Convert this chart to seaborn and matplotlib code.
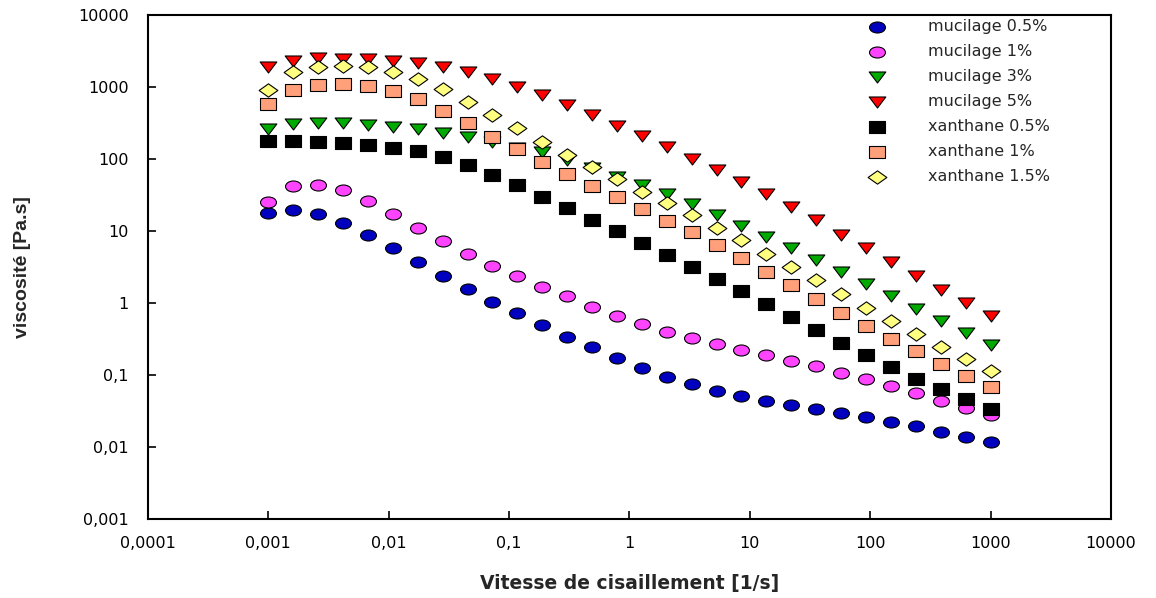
import numpy as np
import matplotlib
matplotlib.use("Agg")
import matplotlib.pyplot as plt
from matplotlib.path import Path
from matplotlib.transforms import Affine2D
import seaborn as sns

# ============================================
# DONNEES
# ============================================

# vitesse de cisaillement [1/s], 30 points log de 0.001 a 1000
shear_rate = [
    0.001, 0.00161, 0.00259, 0.00418, 0.00672, 0.0108, 0.0174, 0.0281,
    0.0452, 0.0728, 0.117, 0.189, 0.304, 0.489, 0.788, 1.27, 2.04, 3.29,
    5.30, 8.53, 13.7, 22.1, 35.6, 57.4, 92.4, 149, 240, 386, 621, 1000,
]

mucilage_05 = [
    17.5, 19.4, 16.9, 12.8, 8.8, 5.75, 3.71, 2.40, 1.55, 1.04, 0.713, 0.490,
    0.341, 0.243, 0.172, 0.123, 0.095, 0.075, 0.060, 0.051, 0.0435, 0.0388,
    0.0337, 0.0301, 0.0258, 0.0225, 0.0194, 0.0164, 0.0139, 0.0116,
]
mucilage_1 = [
    25.0, 41.4, 42.7, 36.4, 25.8, 16.9, 10.8, 7.13, 4.75, 3.27, 2.33, 1.67,
    1.23, 0.891, 0.668, 0.511, 0.401, 0.324, 0.267, 0.222, 0.188, 0.158,
    0.132, 0.107, 0.0871, 0.0703, 0.0557, 0.0441, 0.0345, 0.0275,
]
mucilage_3 = [
    256, 300, 313, 311, 294, 278, 256, 225, 200, 171, 143, 125, 96, 75,
    56.2, 43.1, 32.0, 23.7, 16.5, 11.6, 8.26, 5.70, 3.92, 2.70, 1.82, 1.24,
    0.836, 0.562, 0.383, 0.261,
]
mucilage_5 = [
    1860, 2297, 2479, 2448, 2402, 2275, 2113, 1860, 1585, 1279, 1000, 760,
    557, 401, 287, 207, 144, 101, 69.7, 48.0, 32.4, 21.5, 14.1, 8.9, 5.75,
    3.67, 2.35, 1.52, 1.0, 0.653,
]
xanthane_05 = [
    178, 178, 171, 164, 155, 142, 127, 106, 81.8, 60.0, 42.7, 29.7, 20.7,
    14.2, 9.9, 6.8, 4.6, 3.16, 2.15, 1.45, 0.959, 0.633, 0.418, 0.278,
    0.188, 0.129, 0.0891, 0.0639, 0.046, 0.0341,
]
xanthane_1 = [
    575, 909, 1066, 1101, 1023, 871, 668, 464, 310, 202, 135, 90, 61.3,
    42.2, 29.1, 19.8, 13.8, 9.5, 6.4, 4.18, 2.70, 1.76, 1.15, 0.736, 0.485,
    0.320, 0.213, 0.144, 0.098, 0.069,
]
xanthane_15 = [
    909, 1600, 1895, 1939, 1860, 1616, 1267, 920, 619, 401, 264, 171, 112,
    76, 51.8, 34.8, 24.0, 16.4, 10.9, 7.43, 4.85, 3.16, 2.07, 1.35, 0.852,
    0.562, 0.367, 0.245, 0.167, 0.115,
]

labels = [
    "mucilage 0.5%", "mucilage 1%", "mucilage 3%", "mucilage 5%",
    "xanthane 0.5%", "xanthane 1%", "xanthane 1.5%",
]
series = [
    mucilage_05, mucilage_1, mucilage_3, mucilage_5,
    xanthane_05, xanthane_1, xanthane_15,
]

x_ticks = [1e-4, 1e-3, 1e-2, 1e-1, 1, 10, 100, 1000, 10000]
x_tick_labels = ["0,0001", "0,001", "0,01", "0,1", "1", "10", "100", "1000", "10000"]
y_ticks = [1e-3, 1e-2, 1e-1, 1, 10, 100, 1000, 10000]
y_tick_labels = ["0,001", "0,01", "0,1", "1", "10", "100", "1000", "10000"]

# ============================================
# MARQUEURS (un peu aplatis comme sur l'original)
# ============================================

ellipse = Path.unit_circle().transformed(Affine2D().scale(1, 0.69))
tri_down = Path([(-1, 0.66), (1, 0.66), (0, -0.66), (-1, 0.66)], closed=True)
rect = Path([(-1, -0.74), (1, -0.74), (1, 0.74), (-1, 0.74), (-1, -0.74)], closed=True)
diamond = Path([(-1, 0), (0, 0.71), (1, 0), (0, -0.71), (-1, 0)], closed=True)

markers = [ellipse, ellipse, tri_down, tri_down, rect, rect, diamond]
colors = ["#0000BE", "#FF44FF", "#00AA00", "#FF0000", "#000000", "#FFA07A", "#FFFF80"]
sizes = [132, 132, 144, 144, 130, 121, 182]

# ============================================
# FIGURE
# ============================================

sns.set_style("ticks")
plt.rcParams["font.family"] = ["DejaVu Sans"]

fig = plt.figure(figsize=(11.56, 5.98), dpi=100)
ax = fig.add_axes([0.128, 0.132, 0.833, 0.8434])

for name, vals, m, c, s in zip(labels, series, markers, colors, sizes):
    sns.scatterplot(
        x=shear_rate,
        y=vals,
        marker=m,
        s=s,
        color=c,
        edgecolor="black",
        linewidth=0.8,
        label=name,
        ax=ax,
        zorder=3,
    )

ax.set_xscale("log")
ax.set_yscale("log")
ax.set_xlim(1e-4, 1e4)
ax.set_ylim(1e-3, 1e4)

ax.set_xticks(x_ticks)
ax.set_xticklabels(x_tick_labels)
ax.set_yticks(y_ticks)
ax.set_yticklabels(y_tick_labels)
ax.minorticks_off()

ax.tick_params(axis="both", direction="in", length=6, width=1.2,
               labelsize=11.5, colors="black")
ax.tick_params(axis="x", pad=12)
ax.tick_params(axis="y", pad=14)

for sp in ax.spines.values():
    sp.set_visible(True)
    sp.set_linewidth(1.5)
    sp.set_color("black")

ax.set_xlabel("Vitesse de cisaillement [1/s]", fontsize=13.5,
              fontweight="bold", family="DejaVu Sans", labelpad=17)
ax.set_ylabel("viscosité [Pa.s]", fontsize=14, fontweight="bold",
              family=["Liberation Sans Narrow", "Liberation Sans"], labelpad=34)

ax.legend(
    loc="upper left",
    bbox_to_anchor=(0.74, 0.992),
    frameon=False,
    fontsize=11.5,
    handlelength=2.0,
    handletextpad=2.2,
    labelspacing=0.63,
    borderaxespad=0,
    borderpad=0,
    scatterpoints=1,
)

fig.savefig("out.png", dpi=100)
